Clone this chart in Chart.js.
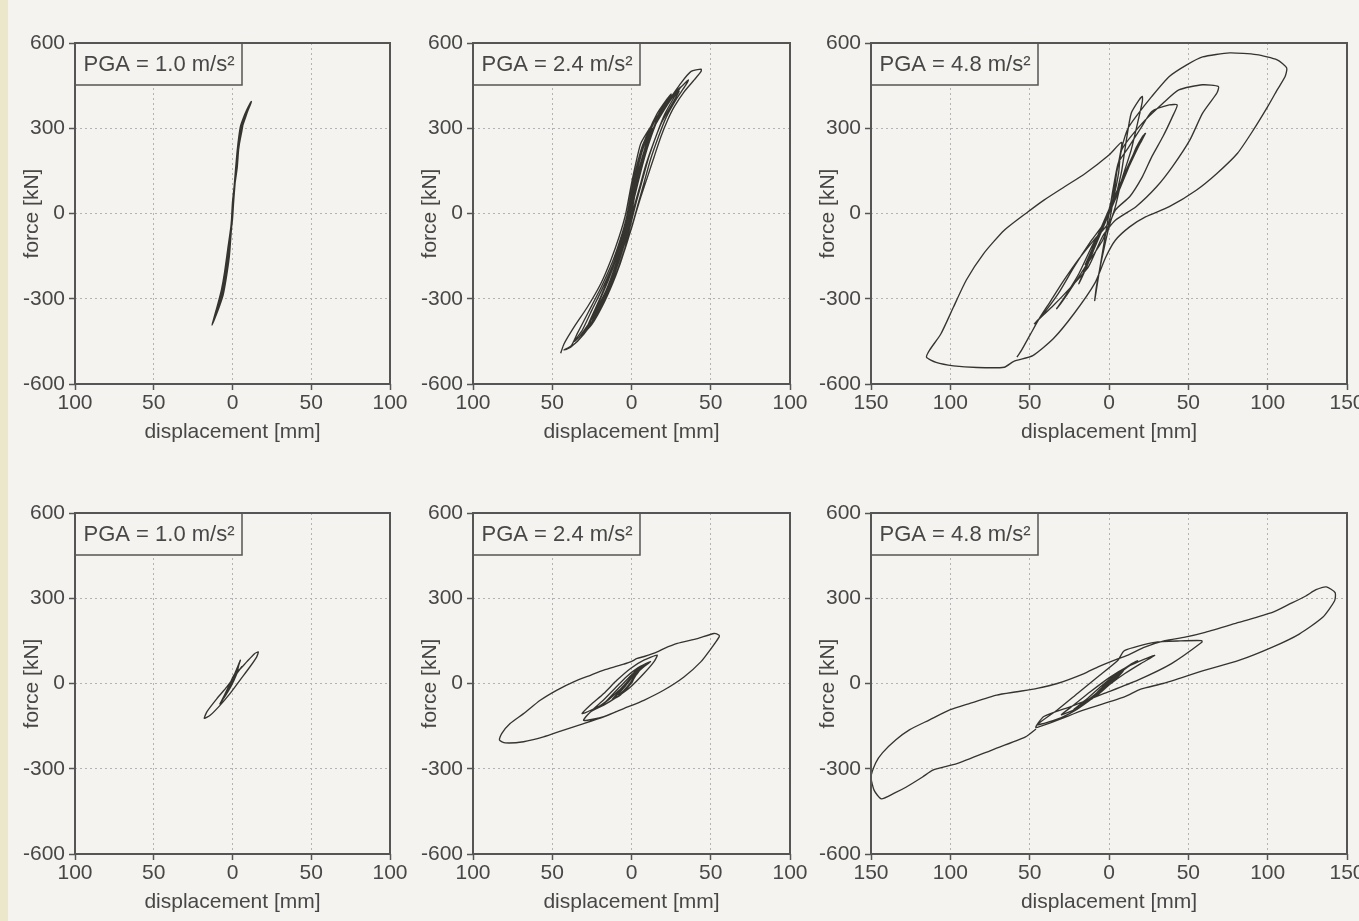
<!DOCTYPE html>
<html lang="en">
<head>
<meta charset="UTF-8">
<title>Hysteresis loops - force vs displacement</title>
<script src="https://cdn.jsdelivr.net/npm/chart.js"></script>
<style>
  body { margin: 0; width: 1359px; height: 921px; overflow: hidden; position: relative;
         background: #f4f3ef; font-family: "Liberation Sans", Arial, sans-serif; }
  .edge { position: absolute; left: 0; top: 0; width: 8px; height: 921px; background: #ece6ca; }
  canvas { position: absolute; }
</style>
</head>
<body>
<div class="edge"></div>
<canvas id="t1" width="410" height="431" style="left:0px;top:23px"></canvas>
<canvas id="t2" width="412" height="431" style="left:398px;top:23px"></canvas>
<canvas id="t3" width="571" height="431" style="left:796px;top:23px"></canvas>
<canvas id="b1" width="410" height="431" style="left:0px;top:493px"></canvas>
<canvas id="b2" width="412" height="431" style="left:398px;top:493px"></canvas>
<canvas id="b3" width="571" height="431" style="left:796px;top:493px"></canvas>

<script>
// labels
const pgaLabels = ['PGA = 1.0 m/s²', 'PGA = 2.4 m/s²', 'PGA = 4.8 m/s²'];
const yTicksKN = [-600, -300, 0, 300, 600];
const xRangeSmall = 100;   // mm, first two columns
const xRangeLarge = 150;   // mm, third column

// [displacement mm, force kN]
const topPga10 = [[-13,-392],[-11,-352],[-9,-312],[-7,-268],[-5,-205],[-3,-125],[-1,-45],[0,20],[1,92],[2,160],[3,222],[4,270],[5,306],[7,338],[9,364],[11,386],[12,394],
  [11,378],[9,352],[7,322],[6,292],[4,232],[3,162],[1,80],[0,0],[-1,-78],[-2,-150],[-4,-228],[-6,-288],[-8,-322],[-10,-352],[-12,-380],[-13,-392],
  [-11,-362],[-8,-302],[-6,-250],[-4,-178],[-2,-98],[0,-10],[1,62],[2,132],[3,198],[5,278],[6,318],[8,350],[10,374],
  [8,342],[6,300],[4,242],[2,142],[0,40],[-1,-58],[-3,-158],[-5,-238],[-7,-292],[-9,-332],[-11,-362],
  [-9,-318],[-6,-262],[-4,-190],[-2,-110],[0,-20],[1,70],[2,150],[4,230],[6,300],[9,350],[11,380]];

const topPga24 = [[-44.7,-492],[-42.6,-459],[-36.3,-400],[-27.8,-329],[-19.4,-247],[-13.1,-165],[-7.8,-82],[-3.6,0],[-0.4,94],[2.7,176],[5.9,247],[12.2,306],[20.7,376],[31.2,459],[37.6,500],[43.9,508],
  [43.9,500],[39.7,471],[33.3,429],[27,376],[22.8,329],[18.6,271],[14.3,200],[10.1,129],[5.9,59],[2.7,0],[-0.4,-59],[-4.6,-129],[-8.9,-200],[-15.2,-282],[-21.5,-353],[-30,-424],[-38.4,-471],[-42.6,-480],
  [-38,-465],[-34,-420],[-27,-345],[-19,-258],[-12,-170],[-7,-90],[-3,-10],[0,80],[3,160],[7,240],[12,300],[19,360],[27,420],[33,455],[36,470],
  [34,450],[28,400],[22,340],[17,270],[12,190],[8,110],[4,30],[0,-50],[-5,-140],[-11,-230],[-18,-310],[-26,-380],[-33,-435],[-36,-450],
  [-31,-410],[-25,-340],[-18,-260],[-11,-170],[-6,-80],[-2,10],[1,100],[4,180],[9,260],[15,330],[23,400],[31,445],
  [27,410],[21,350],[16,280],[11,200],[7,120],[3,40],[-1,-50],[-5,-140],[-10,-220],[-17,-310],[-25,-390],[-32,-430],
  [-28,-405],[-22,-330],[-15,-240],[-9,-150],[-4,-60],[-1,20],[2,110],[5,190],[10,270],[16,350],[22,400],[25,420],
  [21,380],[15,310],[10,230],[6,150],[2,60],[-2,-30],[-6,-120],[-11,-210],[-17,-300],[-23,-370],[-28,-400],
  [-20,-300],[-14,-220],[-8,-130],[-4,-50],[-1,30],[2,120],[6,210],[11,290],[16,350],[20,380],
  [16,330],[11,260],[7,180],[3,90],[0,0],[-4,-90],[-9,-180],[-15,-270],[-21,-330],[-24,-360],
  [-16,-270],[-10,-180],[-5,-90],[-2,-10],[1,80],[4,170],[8,250],[12,300],[15,330],
  [11,280],[7,200],[3,110],[0,20],[-3,-70],[-8,-160],[-13,-240],[-18,-300],[-20,-330],
  [-16,-290],[-11,-200],[-6,-110],[-2,-20],[1,70],[4,160],[8,240],[13,300],[9,240],[5,150],[1,60],[-2,-30],[-6,-120],[-11,-210],[-16,-280],
  [-22,-350],[-27,-400],[-30,-420],[-25,-370],[-19,-290],[-13,-200],[-7,-110],[-3,-30],[1,60],[4,140],[8,220],[13,290],[19,350],[26,410],[30,430],
  [25,380],[19,320],[14,250],[9,170],[5,90],[1,10],[-3,-80],[-8,-170],[-14,-260],[-20,-330]];

const topPga48 = [[0,0],[6,80],[12,160],[17,230],[21,270],[23,282],[19,240],[13,170],[6,90],[0,10],[-6,-70],[-12,-150],[-17,-220],[-19,-247],
  [-15,-200],[-9,-120],[-3,-40],[4,50],[10,130],[16,210],[20,255],[16,215],[9,130],[2,40],[-5,-50],[-11,-130],[-15,-180],
  [-10,-120],[-4,-40],[3,40],[9,120],[14,190],[18,230],[12,160],[5,70],
  [8,150],[11,260],[14,353],[19,400],[21,412],[21,394],[18,318],[14,224],[8,118],[4,24],[0,-47],[-3,-120],[-6,-200],[-8,-260],[-9,-306],
  [-6,-200],[-3,-100],[0,0],[3,100],[6,180],
  [12,230],[20,300],[27,359],[38,382],[43,382],[40,341],[34,271],[27,200],[21,129],[13,59],[4,12],[-4,-94],[-15,-188],[-26,-282],[-33,-335],
  [-28,-294],[-19,-212],[-11,-118],[-2,-24],[3,60],[6,140],
  [8,224],[21,318],[34,388],[44,435],[59,453],[69,447],[68,424],[59,353],[51,259],[40,165],[30,94],[17,24],[4,-24],[-4,-80],[-13,-188],[-24,-259],[-36,-329],[-45,-376],[-47,-388],
  [-43,-365],[-32,-282],[-22,-188],[-11,-94],[-2,-24],[2,60],[4,120],[8,230],[12,300],[17,341],[27,412],[38,482],[49,523],[59,551],[76,565],[93,559],[106,541],[112,512],
  [111,482],[106,435],[100,376],[91,294],[81,212],[68,141],[55,82],[38,24],[23,-12],[13,-47],[4,-94],[-2,-153],[-9,-246],[-22,-352],[-35,-440],[-48,-500],[-60,-520],
  [-66,-541],[-83,-542],[-98,-536],[-109,-524],[-115,-506],
  [-113,-480],[-106,-424],[-98,-329],[-90,-235],[-79,-141],[-66,-59],[-51,6],[-41,47],[-28,94],[-15,141],[0,206],[8,250],
  [5,150],[0,-30],[-9,-90],[-19,-160],[-29,-240],[-37,-310],[-44,-370],[-50,-430],[-55,-480],[-58,-505]];

const botPga10 = [[0,0],[2,25],[3,40],[2,30],[0,5],[-3,-25],[-5,-45],[-6,-53],[-4,-35],[-1,-5],[1,20],[3,45],[3.5,50],[1,25],[-2,-10],[-4,-35],[-6,-55],
  [-3,-30],[0,0],[2,30],[3,42],[4,65],[5,82],[3,55],[0,15],[-3,-25],[-6,-55],[-8,-72],[-5,-40],[-2,-5],[1,30],
  [5,52],[9,76],[14,105],[16.4,111],[15.3,93],[11,58],[4.8,12],[-1.5,-35],[-7.8,-76],[-14,-111],[-17.9,-123],[-16.2,-99],[-9.9,-53],[-3.6,-12],[2.7,35],[6,60]];

const botPga24 = [[0,0],[3,35],[2,28],[-1,0],[-5,-25],[-8,-40],[-5,-30],[-1,-5],[3,30],[5,45],[2,25],[-3,-15],[-8,-45],[-12,-55],
  [-8,-30],[-3,5],[2,35],[5,50],[1,25],[-4,-10],[-9,-40],[-14,-65],[-18,-75],
  [-13,-45],[-7,-10],[0,30],[5,55],[8,65],[4,45],[-2,10],[-8,-25],[-14,-55],[-20,-80],[-24,-90],
  [-18,-60],[-11,-20],[-3,25],[4,55],[9,70],[12,77],[8,60],[2,30],[-5,-10],[-12,-45],[-19,-75],[-26,-95],
  [-31.2,-106],[-25.9,-76],[-17.5,-35],[-9.1,12],[-0.6,53],[7.8,82],[16.2,100],
  [14.1,76],[7.8,35],[-0.6,-12],[-9.1,-47],[-17.5,-76],[-25.9,-100],[-30.2,-130],
  [-17.5,-117],[-4.9,-88],[7.8,-59],[20.5,-23],[33.1,23],[43.7,76],[51,129],[55.3,164],[55.3,170],[52.1,176],
  [41.6,158],[28.9,141],[20.5,123],[16.2,111],[8,95],[3.6,88],[-0.6,76],[-4.9,68],[-9.1,61],[-17.5,47],[-25.9,29],[-36.5,6],[-47,-23],[-57.6,-59],[-68.1,-106],[-76.6,-141],[-81.9,-176],[-83.3,-199],
  [-79.7,-209],[-68.1,-205],[-55.5,-188],[-42.8,-164],[-30.2,-141],[-17.5,-117],[-10,-100]];

const botPga48 = [[0,0],[5,25],[8,40],[4,20],[-2,-10],[-7,-35],[-10,-50],[-6,-35],[0,-5],[5,20],[9,45],[6,35],[0,5],[-6,-30],[-11,-55],
  [-6,-25],[0,10],[5,35],[8,45],[3,20],[-4,-20],[-10,-50],[-15,-70],
  [-9,-40],[-2,0],[5,35],[12,60],[6,35],[-2,-5],[-9,-40],[-16,-70],[-22,-90],
  [-14,-55],[-5,-10],[5,35],[13,65],[18,80],[11,55],[2,15],[-7,-30],[-15,-65],[-23,-95],[-30,-110],
  [-22,-75],[-12,-30],[0,20],[12,60],[22,85],[28.8,99],[20,70],[10,35],[0,-5],[-10,-50],[-20,-90],[-30,-120],[-38,-135],[-45.3,-145],
  [-32.6,-93],[-19.9,-35],[-7.2,23],[5.5,81],[9.7,116],[28.8,145],[45,150],[58.5,151],
  [58.5,145],[39.4,70],[18.2,12],[-3,-35],[-24.2,-81],[-41.1,-116],[-46,-155],
  [-15.7,-93],[9.7,-47],[20,-20],[34,0],[60.6,47],[81.8,81],[103,128],[119.9,174],[134.7,233],[142.2,291],[142.5,320],[137,340],[130.5,330],
  [124,308],[113.6,279],[103,250],[81.8,215],[60.6,180],[47.9,163],[35.2,151],[22.5,128],[12,100],[5.5,87],[-7.2,58],[-15.7,35],[-32.6,0],
  [-45.3,-17],[-58,-29],[-70.8,-41],[-87.7,-70],[-100.4,-93],[-113.1,-128],[-125.8,-163],[-134.3,-198],[-142.8,-244],[-147,-279],[-150,-330],[-148,-376],[-143.5,-406],
  [-135,-385],[-128,-365],[-117.5,-329],[-111,-305],[-95.9,-282],[-74.2,-235],[-52.6,-188],[-46,-160]];

const PAGE_BG = '#f4f3ef';
const INK = '#474747';
const FRAME = '#555555';
const FONT = '"Liberation Sans", Arial, sans-serif';

const framePlugin = {
  id: 'frame',
  afterDatasetsDraw(chart, args, opts) {
    const { ctx, chartArea: a } = chart;
    ctx.save();
    ctx.fillStyle = PAGE_BG;
    ctx.fillRect(a.left, a.top, 167, 42);
    ctx.strokeStyle = FRAME;
    ctx.lineWidth = 1.5;
    ctx.strokeRect(a.left, a.top, 167, 42);
    ctx.fillStyle = INK;
    ctx.font = '22px ' + FONT;
    ctx.textAlign = 'center';
    ctx.textBaseline = 'middle';
    ctx.fillText(opts.label, a.left + 84, a.top + 22);
    ctx.lineWidth = 2;
    ctx.strokeRect(a.left, a.top, a.right - a.left, a.bottom - a.top);
    ctx.restore();
  }
};

function drawPanel(id, loop, label, range) {
  new Chart(document.getElementById(id), {
    type: 'scatter',
    data: {
      datasets: [{
        data: loop.map(p => ({ x: p[0], y: p[1] })),
        showLine: true,
        borderColor: '#36342f',
        borderWidth: 1.35,
        pointRadius: 0,
        tension: 0.2
      }]
    },
    options: {
      responsive: false,
      animation: false,
      events: [],
      layout: { padding: { top: 20, right: 20, left: 0, bottom: 0 } },
      plugins: { legend: { display: false }, tooltip: { enabled: false }, frame: { label: label } },
      scales: {
        x: {
          type: 'linear', min: -range, max: range,
          afterFit: s => { s.height = 70; },
          ticks: { stepSize: 50, color: INK, font: { size: 21, family: FONT }, padding: 1,
                   callback: v => Math.abs(v) },
          grid: { color: '#b3b3b3', lineWidth: 1, tickLength: 6, tickColor: FRAME, tickWidth: 1.5 },
          border: { display: false, dash: [2, 3] },
          title: { display: true, text: 'displacement [mm]', color: INK,
                   font: { size: 21, family: FONT }, padding: { top: 0, bottom: 9 } }
        },
        y: {
          type: 'linear', min: -600, max: 600,
          afterFit: s => { s.width = 75; },
          afterBuildTicks: s => { s.ticks = yTicksKN.map(v => ({ value: v })); },
          ticks: { color: INK, font: { size: 21, family: FONT }, padding: 4 },
          grid: { color: '#b3b3b3', lineWidth: 1, tickLength: 6, tickColor: FRAME, tickWidth: 1.5 },
          border: { display: false, dash: [2, 3] },
          title: { display: true, text: 'force [kN]', color: INK,
                   font: { size: 21, family: FONT }, padding: { top: 20, bottom: 0 } }
        }
      }
    },
    plugins: [framePlugin]
  });
}

drawPanel('t1', topPga10, pgaLabels[0], xRangeSmall);
drawPanel('t2', topPga24, pgaLabels[1], xRangeSmall);
drawPanel('t3', topPga48, pgaLabels[2], xRangeLarge);
drawPanel('b1', botPga10, pgaLabels[0], xRangeSmall);
drawPanel('b2', botPga24, pgaLabels[1], xRangeSmall);
drawPanel('b3', botPga48, pgaLabels[2], xRangeLarge);
</script>
</body>
</html>
